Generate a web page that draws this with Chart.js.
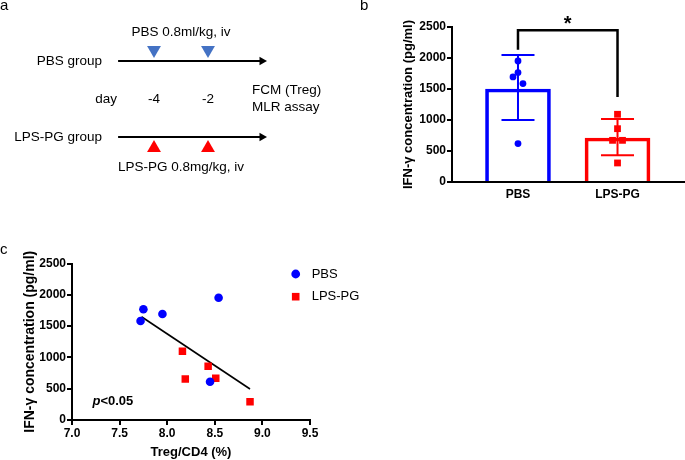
<!DOCTYPE html>
<html>
<head>
<meta charset="utf-8">
<script src="https://cdn.jsdelivr.net/npm/chart.js@4.4.0/dist/chart.umd.min.js"></script>
<style>
  body { margin: 0; background: #fff; }
  #fig { position: relative; width: 685px; height: 460px; overflow: hidden; font-family: "Liberation Sans", Arial, sans-serif; }
  canvas { position: absolute; }
  .tag { position: absolute; font-size: 15px; line-height: 1; color: #000; }
</style>
</head>
<body>
<div id="fig">
  <canvas id="scheme" width="340" height="240" style="left:0;top:0"></canvas>
  <canvas id="bars" width="345" height="225" style="left:340px;top:0"></canvas>
  <canvas id="corr" width="400" height="210" style="left:0;top:250px"></canvas>
  <div class="tag" style="left:0;top:-3px">a</div>
  <div class="tag" style="left:360px;top:-3px">b</div>
  <div class="tag" style="left:0;top:241px">c</div>
</div>
<script>
// panel a - schedule
const injectionDays = [-4, -2];
const dayLabels = ['-4', '-2'];
const groupNames = ['PBS group', 'LPS-PG group'];
const doseLabels = ['PBS 0.8ml/kg, iv', 'LPS-PG 0.8mg/kg, iv'];
const readoutLabels = ['FCM (Treg)', 'MLR assay'];
const timelineStart = -5.33;
const timelineEnd = 0;

// panel b - bars
const groups = ['PBS', 'LPS-PG'];
const groupMeans = [1500, 710];
const groupErrLow = [1000, 430];
const groupErrHigh = [2048, 1016];
const pbsValues = [1952, 1765, 1694, 1587, 619];
const pbsJitter = [0, 0, -0.05, 0.05, 0];
const lpsValues = [1092, 860, 672, 672, 307];
const lpsJitter = [0, 0, -0.05, 0.05, 0];
const bracketEnds = [2135, 1371];
const bracketTop = 2447;

// panel c - correlation
const pbsTreg = [7.72, 7.75, 7.95, 8.54, 8.45];
const pbsIfn = [1581, 1768, 1693, 1954, 612];
const lpsTreg = [8.16, 8.19, 8.43, 8.51, 8.87];
const lpsIfn = [1097, 655, 858, 666, 292];
const fitTreg = [7.73, 8.87];
const fitIfn = [1650, 495];

const FONT = '"Liberation Sans", Arial, sans-serif';
const BLUE = '#0000ff';
const RED = '#ff0000';
const groupColors = [BLUE, RED];

Chart.defaults.font.family = FONT;
Chart.defaults.color = '#000';
Chart.defaults.animation = false;
Chart.defaults.layout.autoPadding = false;
Chart.defaults.plugins.legend.display = false;
Chart.defaults.plugins.tooltip.enabled = false;

// ---------- a ----------
const levels = [1, 0]; // PBS row, LPS-PG row
const lift = 0.145;

const schemeText = {
  id: 'schemeText',
  afterDraw(chart) {
    const {ctx, scales: {x, y}} = chart;
    ctx.save();
    ctx.fillStyle = '#000';
    ctx.font = '13.5px ' + FONT;
    ctx.textBaseline = 'middle';
    const mid = x.getPixelForValue((injectionDays[0] + injectionDays[1]) / 2);
    ctx.textAlign = 'center';
    ctx.fillText(doseLabels[0], mid, y.getPixelForValue(levels[0]) - 29);
    ctx.fillText(doseLabels[1], mid, y.getPixelForValue(levels[1]) + 30);
    const rowMid = (y.getPixelForValue(levels[0]) + y.getPixelForValue(levels[1])) / 2;
    injectionDays.forEach((d, i) => ctx.fillText(dayLabels[i], x.getPixelForValue(d), rowMid));
    ctx.textAlign = 'right';
    groupNames.forEach((g, i) => ctx.fillText(g, x.getPixelForValue(timelineStart) - 16, y.getPixelForValue(levels[i])));
    ctx.fillText('day', x.getPixelForValue(timelineStart) - 1, rowMid);
    ctx.textAlign = 'left';
    ctx.fillText(readoutLabels[0], x.getPixelForValue(timelineEnd) - 10, rowMid - 9);
    ctx.fillText(readoutLabels[1], x.getPixelForValue(timelineEnd) - 10, rowMid + 8);
    ctx.restore();
  }
};

new Chart(document.getElementById('scheme'), {
  type: 'scatter',
  data: {
    datasets: [
      {type: 'line', data: [{x: timelineStart, y: levels[0]}, {x: timelineEnd, y: levels[0]}],
       borderColor: '#000', borderWidth: 2, pointRadius: 0},
      {type: 'line', data: [{x: timelineStart, y: levels[1]}, {x: timelineEnd, y: levels[1]}],
       borderColor: '#000', borderWidth: 2, pointRadius: 0},
      {data: levels.map(l => ({x: timelineEnd, y: l})), pointStyle: 'triangle', rotation: 90,
       pointRadius: 5, backgroundColor: '#000', borderWidth: 0},
      {data: injectionDays.map(d => ({x: d, y: levels[0] + lift})), pointStyle: 'triangle', rotation: 180,
       pointRadius: 8, backgroundColor: '#4472c4', borderWidth: 0},
      {data: injectionDays.map(d => ({x: d, y: levels[1] - lift})), pointStyle: 'triangle', rotation: 0,
       pointRadius: 8, backgroundColor: RED, borderWidth: 0}
    ]
  },
  options: {
    responsive: false,
    events: [],
    layout: {padding: 0},
    scales: {
      x: {type: 'linear', display: false, min: -9.704, max: 2.889},
      y: {type: 'linear', display: false, min: -1.355, max: 1.8026}
    }
  },
  plugins: [schemeText]
});

// ---------- b ----------
const errorBars = {
  id: 'errorBars',
  beforeDatasetsDraw(chart) {
    const {ctx, scales: {x, y}} = chart;
    ctx.save();
    ctx.lineWidth = 2;
    groups.forEach((g, i) => {
      const cx = x.getPixelForValue(i);
      const lo = y.getPixelForValue(groupErrLow[i]);
      const hi = y.getPixelForValue(groupErrHigh[i]);
      ctx.strokeStyle = groupColors[i];
      ctx.beginPath();
      ctx.moveTo(cx, lo); ctx.lineTo(cx, hi);
      ctx.moveTo(cx - 16.5, lo); ctx.lineTo(cx + 16.5, lo);
      ctx.moveTo(cx - 16.5, hi); ctx.lineTo(cx + 16.5, hi);
      ctx.stroke();
    });
    ctx.restore();
  }
};

const sigBracket = {
  id: 'sigBracket',
  afterDraw(chart) {
    const {ctx, scales: {x, y}} = chart;
    const x0 = x.getPixelForValue(0), x1 = x.getPixelForValue(1);
    const top = y.getPixelForValue(bracketTop);
    ctx.save();
    ctx.strokeStyle = '#000';
    ctx.lineWidth = 2.5;
    ctx.beginPath();
    ctx.moveTo(x0, y.getPixelForValue(bracketEnds[0]));
    ctx.lineTo(x0, top);
    ctx.lineTo(x1, top);
    ctx.lineTo(x1, y.getPixelForValue(bracketEnds[1]));
    ctx.stroke();
    ctx.fillStyle = '#000';
    ctx.font = 'bold 20px ' + FONT;
    ctx.textAlign = 'center';
    ctx.textBaseline = 'alphabetic';
    ctx.fillText('*', (x0 + x1) / 2, top + 0);
    ctx.restore();
  }
};

new Chart(document.getElementById('bars'), {
  type: 'bar',
  data: {
    datasets: [
      {type: 'scatter', data: pbsValues.map((v, i) => ({x: 0 + pbsJitter[i], y: v})),
       pointStyle: 'circle', pointRadius: 3.4, backgroundColor: BLUE, borderWidth: 0},
      {type: 'scatter', data: lpsValues.map((v, i) => ({x: 1 + lpsJitter[i], y: v})),
       pointStyle: 'rect', pointRadius: 4.8, backgroundColor: RED, borderWidth: 0},
      {type: 'bar', data: groupMeans.map((v, i) => ({x: i, y: v})),
       backgroundColor: 'rgba(0,0,0,0)', borderColor: groupColors, borderWidth: 3,
       borderSkipped: 'start', barThickness: 65}
    ]
  },
  options: {
    responsive: false,
    events: [],
    layout: {padding: {top: 27, right: 0, left: 0, bottom: 0}},
    scales: {
      x: {
        type: 'linear', min: -0.663, max: 1.678, offset: false,
        afterBuildTicks: s => { s.ticks = groups.map((g, i) => ({value: i})); },
        afterFit: s => { s.height = 43; },
        grid: {display: false, drawTicks: false, offset: false},
        border: {color: '#000', width: 2},
        ticks: {callback: v => groups[v], font: {size: 12, weight: 'bold'}, padding: 5,
                maxRotation: 0, autoSkip: false}
      },
      y: {
        min: 0, max: 2500,
        afterFit: s => { s.width = 112; },
        ticks: {stepSize: 500, callback: v => String(v), font: {size: 12, weight: 'bold'}, padding: 1},
        grid: {drawOnChartArea: false, tickLength: 5, color: '#000', lineWidth: 2},
        border: {color: '#000', width: 2},
        title: {display: true, text: 'IFN-γ concentration (pg/ml)',
                font: {size: 13, weight: 'bold'}, padding: {top: 61, bottom: 0}}
      }
    }
  },
  plugins: [errorBars, sigBracket]
});

// ---------- c ----------
const corrExtras = {
  id: 'corrExtras',
  afterDraw(chart) {
    const {ctx, chartArea} = chart;
    ctx.save();
    ctx.textBaseline = 'middle';
    ctx.textAlign = 'left';
    // legend
    const lx = 295.7, ly = [24, 46.7];
    ctx.fillStyle = BLUE;
    ctx.beginPath(); ctx.arc(lx, ly[0], 4.4, 0, Math.PI * 2); ctx.fill();
    ctx.fillStyle = RED;
    ctx.fillRect(lx - 3.8, ly[1] - 3.8, 7.6, 7.6);
    ctx.fillStyle = '#000';
    ctx.font = '13px ' + FONT;
    ctx.fillText(groups[0], lx + 16, ly[0]);
    ctx.fillText(groups[1], lx + 16, ly[1]);
    // p value
    const px = chartArea.left + 20.5, py = chartArea.bottom - 18.5;
    ctx.font = 'italic bold 13px ' + FONT;
    ctx.fillText('p', px, py);
    const w = ctx.measureText('p').width;
    ctx.font = 'bold 13px ' + FONT;
    ctx.fillText('<0.05', px + w, py);
    ctx.restore();
  }
};

new Chart(document.getElementById('corr'), {
  type: 'scatter',
  data: {
    datasets: [
      {label: 'PBS', data: pbsTreg.map((t, i) => ({x: t, y: pbsIfn[i]})),
       pointStyle: 'circle', pointRadius: 4.3, backgroundColor: BLUE, borderWidth: 0},
      {label: 'LPS-PG', data: lpsTreg.map((t, i) => ({x: t, y: lpsIfn[i]})),
       pointStyle: 'rect', pointRadius: 5.3, backgroundColor: RED, borderWidth: 0},
      {type: 'line', data: fitTreg.map((t, i) => ({x: t, y: fitIfn[i]})),
       borderColor: '#000', borderWidth: 1.6, pointRadius: 0}
    ]
  },
  options: {
    responsive: false,
    events: [],
    layout: {padding: {top: 13.5, right: 90, left: 0, bottom: 0}},
    scales: {
      x: {
        min: 7, max: 9.5,
        afterFit: s => { s.height = 40; },
        ticks: {stepSize: 0.5, callback: v => v.toFixed(1), font: {size: 12, weight: 'bold'}, padding: 1,
                maxRotation: 0},
        grid: {drawOnChartArea: false, tickLength: 5, color: '#000', lineWidth: 2},
        border: {color: '#000', width: 2},
        title: {display: true, text: 'Treg/CD4 (%)', font: {size: 13, weight: 'bold'},
                padding: {top: 0, bottom: 0}}
      },
      y: {
        min: 0, max: 2500,
        afterFit: s => { s.width = 72; },
        ticks: {stepSize: 500, callback: v => String(v), font: {size: 12, weight: 'bold'}, padding: 1},
        grid: {drawOnChartArea: false, tickLength: 5, color: '#000', lineWidth: 2},
        border: {color: '#000', width: 2},
        title: {display: true, text: 'IFN-γ concentration (pg/ml)',
                font: {size: 14, weight: 'bold'}, padding: {top: 21.6, bottom: 0}}
      }
    }
  },
  plugins: [corrExtras]
});
</script>
</body>
</html>
